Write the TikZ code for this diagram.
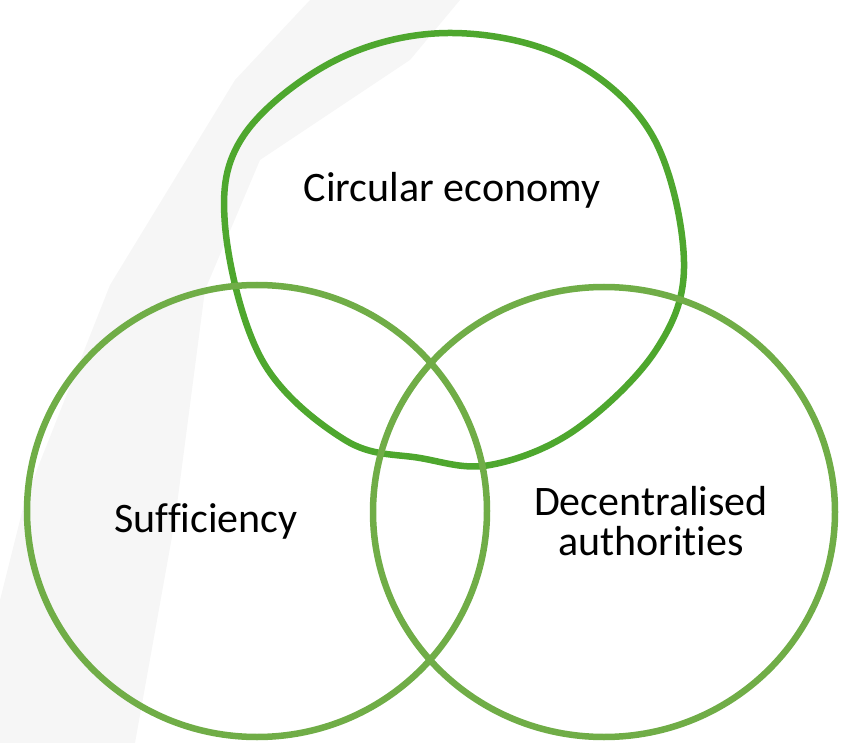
\documentclass[tikz,border=0pt]{standalone}
\usepackage{fontspec}
\setmainfont{Carlito}[Ligatures=NoCommon]
\usepackage{tikz}

\definecolor{topgreen}{HTML}{4EA72E}
\definecolor{sidegreen}{HTML}{70AD47}
\definecolor{wash}{HTML}{F6F6F6}

\begin{document}
\begin{tikzpicture}[x=1pt, y=-1pt,
                    ring/.style={line width=6.5pt, draw=#1},
                    venntext/.style={font=\fontsize{42}{40}\selectfont, align=center, inner sep=0pt}]
  \useasboundingbox (0,0) rectangle (841,743);
  % faint brush stroke behind the circles
  \fill[wash] (5,743) -- (135,743) -- (175,520) -- (205,290) -- (260,160) -- (410,60)
              -- (460,0) -- (310,0) -- (235,80) -- (110,285) -- (25,500) -- (0,600) -- (0,743) -- cycle;
  % top circle
  \draw[ring=topgreen] plot[smooth cycle, tension=0.6] coordinates {
    (448,33) (566,58) (652,135) (684,262) (656,350) (575,430) (490,465)
    (420,458) (345,440) (262,360) (225,225) (244,135) (336,60)};
  % side circles
  \draw[ring=sidegreen] (257,511) ellipse [x radius=230, y radius=226];
  \draw[ring=sidegreen] (604,512) ellipse [x radius=231, y radius=225];
  % texts
  \node[venntext, anchor=base] (circ) at (452,202) {Circular economy};
  \node[venntext, anchor=base] (suff) at (206,532) {Sufficiency};
  \node[venntext, anchor=base] (dece) at (651,555) {Decentralised\\authorities};
\end{tikzpicture}
\end{document}
